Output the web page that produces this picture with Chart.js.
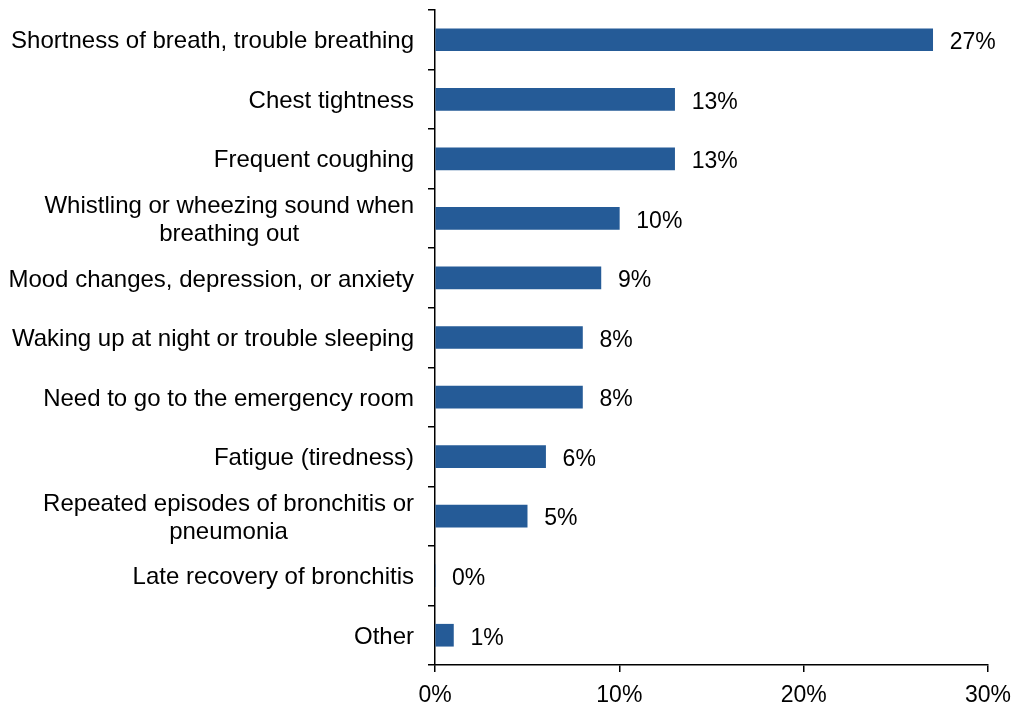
<!DOCTYPE html>
<html>
<head>
<meta charset="utf-8">
<script src="https://cdn.jsdelivr.net/npm/chart.js@4"></script>
<style>
  html, body { margin: 0; padding: 0; background: #fff; }
  #wrap { width: 1014px; height: 704px; }
</style>
</head>
<body>
<div id="wrap"><canvas id="symptomChart"></canvas></div>
<script>
const categories = [
    'Shortness of breath, trouble breathing',
    'Chest tightness',
    'Frequent coughing',
    ['Whistling or wheezing sound when', 'breathing out'],
    'Mood changes, depression, or anxiety',
    'Waking up at night or trouble sleeping',
    'Need to go to the emergency room',
    'Fatigue (tiredness)',
    ['Repeated episodes of bronchitis or', 'pneumonia'],
    'Late recovery of bronchitis',
    'Other'
];
const values = [27, 13, 13, 10, 9, 8, 8, 6, 5, 0, 1];
const xTicks = [0, 10, 20, 30];

const FONT = '"Liberation Sans", Arial, sans-serif';

// category labels (centred lines, block right-aligned) + value labels
const labelPlugin = {
    id: 'labelPlugin',
    afterDraw(chart) {
        const ctx = chart.ctx;
        const yScale = chart.scales.y;
        ctx.save();
        ctx.font = '24px ' + FONT;
        ctx.fillStyle = '#000';
        ctx.textBaseline = 'middle';
        ctx.textAlign = 'center';
        categories.forEach((lab, i) => {
            const lines = Array.isArray(lab) ? lab : [lab];
            const w = Math.max(...lines.map(l => ctx.measureText(l).width));
            const cx = yScale.right - 21 - w / 2;
            const cy = yScale.getPixelForValue(i) + 2;
            lines.forEach((l, k) => {
                ctx.fillText(l, cx, cy + (k - (lines.length - 1) / 2) * 28);
            });
        });
        ctx.font = '23px ' + FONT;
        ctx.textAlign = 'left';
        chart.getDatasetMeta(0).data.forEach((bar, i) => {
            ctx.fillText(values[i] + '%', bar.x + 17, bar.y + 3);
        });
        ctx.restore();
    }
};

const ctx = document.getElementById('symptomChart').getContext('2d');
const symptomChart = new Chart(ctx, {
    type: 'bar',
    data: {
        labels: categories,
        datasets: [{
            data: values,
            backgroundColor: '#255B97',
            borderWidth: 0,
            barThickness: 22
        }]
    },
    options: {
        indexAxis: 'y',
        responsive: true,
        maintainAspectRatio: false,
        animation: false,
        layout: { padding: { top: 10, right: 25, left: 0, bottom: 0 } },
        plugins: {
            legend: { display: false },
            tooltip: { enabled: false }
        },
        scales: {
            x: {
                min: 0,
                max: 30,
                afterBuildTicks: (scale) => { scale.ticks = xTicks.map(v => ({ value: v })); },
                afterFit: (scale) => { scale.height = 39; },
                border: { color: '#000', width: 1.5 },
                grid: { drawOnChartArea: false, tickLength: 7, color: '#000', lineWidth: 1.5 },
                ticks: {
                    callback: v => v + '%',
                    color: '#000',
                    padding: 3,
                    maxRotation: 0,
                    font: { family: FONT, size: 23, lineHeight: 1.8 }
                }
            },
            y: {
                afterFit: (scale) => { scale.width = 435; },
                border: { color: '#000', width: 1.5 },
                grid: { offset: true, drawOnChartArea: false, tickLength: 7, color: '#000', lineWidth: 1.5 },
                ticks: {
                    color: 'rgba(0,0,0,0)',
                    font: { family: FONT, size: 1 }
                }
            }
        }
    },
    plugins: [labelPlugin]
});
</script>
</body>
</html>
